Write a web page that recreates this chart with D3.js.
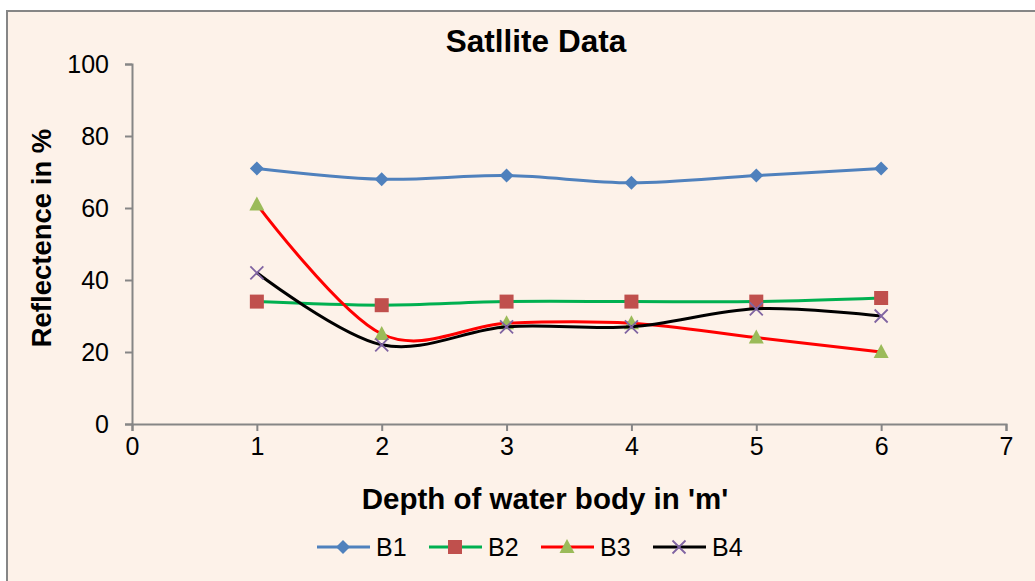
<!DOCTYPE html>
<html>
<head>
<meta charset="utf-8">
<script src="https://cdn.jsdelivr.net/npm/d3@7"></script>
<style>
  html, body { margin: 0; padding: 0; background: #ffffff; }
  svg { display: block; }
  text { font-family: "Liberation Sans", Arial, sans-serif; }
</style>
</head>
<body>
<svg id="chart" width="1035" height="581"></svg>
<script>
const depths = [1, 2, 3, 4, 5, 6];
const seriesNames = ["B1", "B2", "B3", "B4"];
const b1 = [71, 68, 69, 67, 69, 71];
const b2 = [34, 33, 34, 34, 34, 35];
const b3 = [61, 25, 28, 28, 24, 20];
const b4 = [42, 22, 27, 27, 32, 30];
const xTicks = [0, 1, 2, 3, 4, 5, 6, 7];
const yTicks = [0, 20, 40, 60, 80, 100];
const lineColors = ["#4F81BD", "#00B050", "#FF0000", "#000000"];
const markerColors = ["#4F81BD", "#C0504D", "#9BBB59", "#8064A2"];
const markerTypes = ["diamond", "square", "triangle", "cross"];

const values = [b1, b2, b3, b4];
const series = seriesNames.map((name, i) => ({
  name, lineColor: lineColors[i], markerColor: markerColors[i], marker: markerTypes[i],
  points: depths.map((d, j) => ({ x: d, y: values[i][j] }))
}));

const svg = d3.select("#chart");

svg.append("rect").attr("x", 7).attr("y", 11).attr("width", 1040).attr("height", 590)
  .attr("fill", "#FDF2E9").attr("stroke", "#868686").attr("stroke-width", 2);

const x = d3.scaleLinear().domain([0, 7]).range([132, 1006]);
const y = d3.scaleLinear().domain([0, 100]).range([424, 64]);

const xAxis = svg.append("g").attr("transform", `translate(0,${y(0)})`)
  .call(d3.axisBottom(x).tickValues(xTicks).tickFormat(d3.format("d")).tickSizeOuter(0).tickSize(7).tickPadding(6));
const yAxis = svg.append("g").attr("transform", `translate(${x(0)},0)`)
  .call(d3.axisLeft(y).tickValues(yTicks).tickFormat(d3.format("d")).tickSizeOuter(0).tickSize(7).tickPadding(16));
[xAxis, yAxis].forEach(g => {
  g.select(".domain").attr("stroke", "#868686").attr("stroke-width", 2);
  g.selectAll(".tick line").attr("stroke", "#868686").attr("stroke-width", 2);
  g.selectAll(".tick text").attr("fill", "#000").style("font-size", "25px")
    .style("font-family", "'Liberation Sans', Arial, sans-serif");
});
yAxis.selectAll(".tick text").attr("dy", "0.35em");

svg.append("text").attr("x", 536).attr("y", 52).attr("text-anchor", "middle")
  .style("font-size", "31.5px").style("font-weight", "bold").text("Satllite Data");
svg.append("text").attr("x", 545).attr("y", 509).attr("text-anchor", "middle")
  .style("font-size", "29.5px").style("font-weight", "bold").text("Depth of water body in 'm'");
svg.append("text").attr("transform", "translate(51,238) rotate(-90)").attr("text-anchor", "middle")
  .style("font-size", "27.5px").style("font-weight", "bold").text("Reflectence in %");

const line = d3.line().x(d => x(d.x)).y(d => y(d.y)).curve(d3.curveCardinal.tension(0));

function drawMarker(g, type, color, cx, cy) {
  if (type === "diamond") {
    g.append("path").attr("d", `M${cx},${cy - 7}L${cx + 7},${cy}L${cx},${cy + 7}L${cx - 7},${cy}Z`).attr("fill", color);
  } else if (type === "square") {
    g.append("rect").attr("x", cx - 7).attr("y", cy - 7).attr("width", 14).attr("height", 14).attr("fill", color);
  } else if (type === "triangle") {
    g.append("path").attr("d", `M${cx},${cy - 8}L${cx + 7.5},${cy + 6}L${cx - 7.5},${cy + 6}Z`).attr("fill", color);
  } else {
    g.append("path").attr("d", `M${cx - 6.5},${cy - 6.5}L${cx + 6.5},${cy + 6.5}M${cx - 6.5},${cy + 6.5}L${cx + 6.5},${cy - 6.5}`)
      .attr("stroke", color).attr("stroke-width", 1.8).attr("fill", "none");
  }
}

series.forEach(s => {
  const g = svg.append("g");
  g.append("path").datum(s.points).attr("d", line).attr("fill", "none")
    .attr("stroke", s.lineColor).attr("stroke-width", 3);
  s.points.forEach(p => drawMarker(g, s.marker, s.markerColor, x(p.x), y(p.y)));
});

const legend = svg.append("g");
series.forEach((s, i) => {
  const lx = 317 + i * 112, ly = 547;
  const g = legend.append("g");
  g.append("line").attr("x1", lx).attr("x2", lx + 53).attr("y1", ly).attr("y2", ly)
    .attr("stroke", s.lineColor).attr("stroke-width", 3);
  drawMarker(g, s.marker, s.markerColor, lx + 26, ly);
  g.append("text").attr("x", lx + 59).attr("y", ly).attr("dy", "0.36em")
    .style("font-size", "25px").text(s.name);
});
</script>
</body>
</html>
